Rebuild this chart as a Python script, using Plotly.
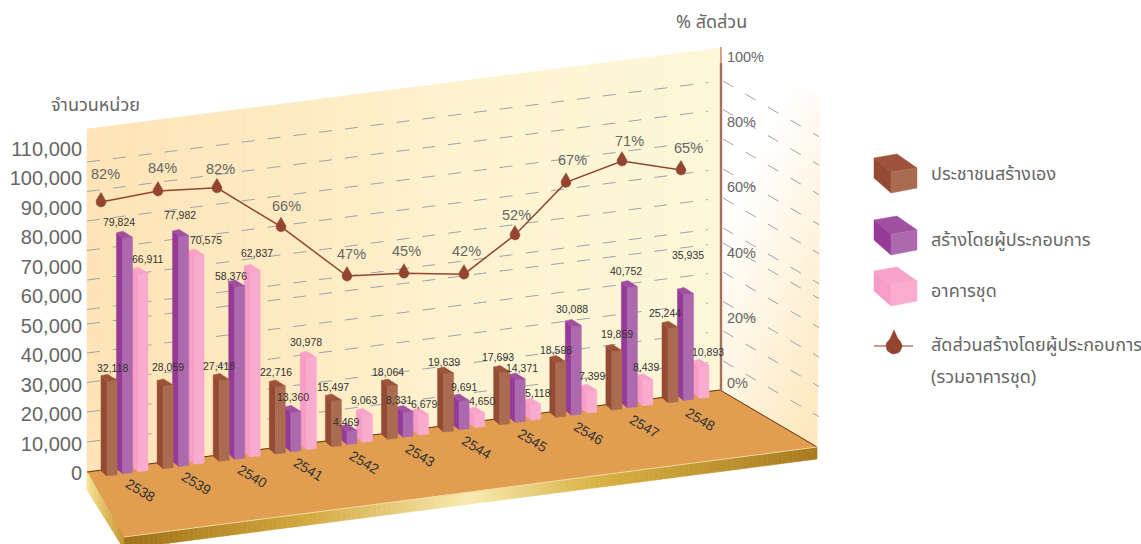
import plotly.graph_objects as go

# ---------- data ----------
years = ["2538", "2539", "2540", "2541", "2542", "2543", "2544", "2545", "2546", "2547", "2548"]
self_built = [32118, 28059, 27418, 22716, 15497, 18064, 19639, 17693, 18598, 19859, 25244]
developer = [79824, 77982, 58376, 13360, 4469, 8331, 9691, 14371, 30088, 40752, 35935]
condo = [66911, 70575, 62837, 30978, 9063, 6679, 4650, 5118, 7399, 8439, 10893]
share_pct = [82, 84, 82, 66, 47, 45, 42, 52, 67, 71, 65]
left_ticks = [0, 10000, 20000, 30000, 40000, 50000, 60000, 70000, 80000, 90000, 100000, 110000]
right_ticks = [0, 20, 40, 60, 80, 100]
series_names = ["ประชาชนสร้างเอง", "สร้างโดยผู้ประกอบการ", "อาคารชุด"]
share_name = ["สัดส่วนสร้างโดยผู้ประกอบการ", "(รวมอาคารชุด)"]

# ---------- projection constants and styling ----------
W, H = 1141, 544
V0, VS = 473.0, 0.00295     # left axis: pixel of zero, pixels per unit
P0, PS = 383.0, 3.26        # right axis: pixel of 0 %, pixels per percent
v_of = lambda p: (V0 - p) / VS
p2_of = lambda p: (P0 - p) / PS

FACES = [
    dict(side="#954A33", front="#AA6C50", top="#9C5339"),
    dict(side="#953A96", front="#AD69AD", top="#A04FA1"),
    dict(side="#F79DC6", front="#F9ACCE", top="#F9A2CA"),
]
LABEL_OFF = [
    [(5, -13), (5, -19), (0, -14), (1, -15), (2, -14), (0, -14), (0, -12), (-2, -16), (0, -13), (5, -17), (-3, -15)],
    [(-4, -16), (1, -21), (-4, -11), (2, -15), (-1, -9), (-4, -13), (5, -14), (7, -12), (1, -17), (-1, -17), (4, -39)],
    [(9, -15), (12, -16), (7, -19), (0, -16), (2, -16), (5, -11), (7, -13), (7, -12), (5, -15), (3, -14), (9, -14)],
]
SHARE_NUDGE = [(0, 2), (-1, 5), (0, 3), (6, -2), (14, -6), (13, -8), (15, -9), (8, -9), (1, -6), (-1, -7), (0, -10)]
SHARE_LABEL = [(4, -28), (4, -23), (3, -19), (5, -21), (4, -22), (2, -22), (2, -23), (1, -20), (6, -22), (7, -20), (7, -22)]
GRID_LEFT = [162, 191.5, 221, 250.5, 280, 309.5, 324, 353, 382.5, 412, 442]
GRID_RIGHT = [81, 109.5, 139, 169, 198, 228, 243, 272, 301.5, 331, 361]

SANS = "Liberation Sans, Arial, sans-serif"
THAI = "Noto Sans Thai, Noto Sans Thai Looped, Noto Sans, DejaVu Sans, sans-serif"
GRAY = "#666666"
DROP = "#93452F"


def mix(a, b, t):
    t = max(0.0, min(1.0, t))
    return "#" + "".join(
        f"{round(int(a[i:i+2], 16) + (int(b[i:i+2], 16) - int(a[i:i+2], 16)) * t):02x}" for i in (1, 3, 5)
    )


def ramp(stops, t):
    for (t0, c0), (t1, c1) in zip(stops, stops[1:]):
        if t <= t1:
            return mix(c0, c1, (t - t0) / (t1 - t0))
    return stops[-1][1]


shapes = []


def poly_shape(points, color):
    path = "M" + " L".join(f"{x:.2f},{v_of(y):.1f}" for x, y in points) + " Z"
    shapes.append(dict(type="path", path=path, xref="x", yref="y", layer="below",
                       fillcolor=color, line=dict(color=color, width=0.6)))


def lerp(a, b, t):
    return (a[0] + (b[0] - a[0]) * t, a[1] + (b[1] - a[1]) * t)


def strips(tl, tr, br, bl, n, color_fn):
    for k in range(n):
        t0, t1 = k / n, (k + 1) / n
        poly_shape([lerp(tl, tr, t0), lerp(tl, tr, t1), lerp(bl, br, t1), lerp(bl, br, t0)],
                   color_fn((t0 + t1) / 2))


# back wall
strips((87, 129), (720, 48), (720, 390), (87, 472), 64,
       lambda t: ramp([(0, "#FEE4B6"), (0.35, "#FEEBC3"), (0.6, "#FEF3D0"), (1, "#FDF7D8")], t))
# right wall, a two-way fade
wn = 18
wtl, wtr, wbr, wbl = (722, 50), (821, 97), (817, 447), (722, 391)
for a in range(wn):
    for b in range(wn):
        u0, u1, w0, w1 = a / wn, (a + 1) / wn, b / wn, (b + 1) / wn
        c = [lerp(lerp(wtl, wtr, u), lerp(wbl, wbr, u), w) for u, w in [(u0, w0), (u1, w0), (u1, w1), (u0, w1)]]
        um, wm = (u0 + u1) / 2, (w0 + w1) / 2
        poly_shape(c, mix("#FFFFFF", "#FDE6B8", 0.6 * um + 0.8 * wm - 0.42))
# floor and its gold edges
poly_shape([(87, 472), (720, 390), (817, 447), (124, 537)], "#E19E50")
strips((124, 537), (817, 447), (817, 459), (124, 549), 140,
       lambda t: ramp([(0, "#9E7018"), (0.25, "#D0A53A"), (0.5, "#F9EAB0"), (0.68, "#D8B344"), (1, "#A87A1F")], t))
strips((87, 472), (124, 537), (124, 549), (87, 490), 24,
       lambda t: ramp([(0, "#F9E594"), (1, "#C4942A")], t))

fig = go.Figure()
COMMON = dict(mode="lines", hoverinfo="skip", showlegend=False)


def add_poly_trace(pts_list, color, yaxis="y"):
    xs, ys = [], []
    for pts in pts_list:
        for x, y in pts + [pts[0]]:
            xs.append(x)
            ys.append(v_of(y))
        xs.append(None)
        ys.append(None)
    fig.add_trace(go.Scatter(x=xs, y=ys, fill="toself", fillcolor=color,
                             line=dict(color=color, width=0.5), yaxis=yaxis, **COMMON))


# dashed grid on both walls
for l, r in zip(GRID_LEFT, GRID_RIGHT):
    fig.add_trace(go.Scatter(x=[87, 708], y=[v_of(l), v_of(l + (r - l) * 621 / 633)],
                             line=dict(color="#9EA3AC", width=1, dash="13px,13px"), **COMMON))
    fig.add_trace(go.Scatter(x=[723, 819], y=[v_of(r), v_of(r + 96 * 0.58)],
                             line=dict(color="#9EA3AC", width=1, dash="12px,14px"), **COMMON))
# wall and floor edges
fig.add_trace(go.Scatter(x=[87, 720, 817], y=[v_of(472), v_of(390), v_of(447)],
                         line=dict(color="#6E3410", width=1), **COMMON))
fig.add_trace(go.Scatter(x=[124, 817], y=[v_of(537), v_of(447)],
                         line=dict(color="#F3D8A4", width=1), **COMMON))
fig.add_trace(go.Scatter(x=[721, 721], y=[v_of(47), v_of(64)],
                         line=dict(color="#C0604C", width=1.2), **COMMON))
fig.add_trace(go.Scatter(x=[721, 721], y=[v_of(63), v_of(391)],
                         line=dict(color="#A5705E", width=2.4), **COMMON))

# bars
all_series = [self_built, developer, condo]
annotations = []
for s in (2, 1, 0):
    sides, fronts, tops = [], [], []
    for i, val in enumerate(all_series[s]):
        x = 107 + 56.1 * i + 15.5 * s
        base = 476 - 7.33 * i - 2.2 * s
        top = base - val * VS
        sides.append([(x, base), (x - 6, base - 5), (x - 6, top - 5.5), (x, top)])
        fronts.append([(x, base), (x + 10, base - 1), (x + 10, top - 1), (x, top)])
        tops.append([(x, top), (x - 6, top - 5.5), (x + 0.5, top - 7), (x + 10, top - 1)])
        dx, dy = LABEL_OFF[s][i]
        annotations.append(dict(x=x + dx, y=v_of(top + dy), text=f"{val:,}", showarrow=False,
                                xanchor="center", yanchor="middle",
                                font=dict(family=SANS, size=10.5, color="#333333")))
    add_poly_trace(sides, FACES[s]["side"])
    add_poly_trace(fronts, FACES[s]["front"])
    add_poly_trace(tops, FACES[s]["top"])


def drop(cx, cy, r, tip):
    from math import cos, sin, pi, asin
    a = asin(r / tip)
    pts = [(cx, cy - tip)]
    n = 18
    for k in range(n + 1):
        ang = -pi / 2 + a + (2 * pi - 2 * a) * k / n
        pts.append((cx + r * cos(ang), cy + r * sin(ang)))
    return pts


# share line, on the percent axis
sx, sy = [], []
for i, pct in enumerate(share_pct):
    x = 101 + 58 * i + SHARE_NUDGE[i][0]
    px = 480.4 - 0.13 * x - PS * pct + SHARE_NUDGE[i][1]
    sx.append(x)
    sy.append(p2_of(px))
    lx, ly = SHARE_LABEL[i]
    annotations.append(dict(x=x + lx, y=v_of(px + ly), text=f"{pct}%", showarrow=False,
                            xanchor="center", yanchor="middle",
                            font=dict(family=SANS, size=14.5, color=GRAY)))
fig.add_trace(go.Scatter(x=sx, y=sy, yaxis="y2", line=dict(color=DROP, width=1.5), **COMMON))
add_poly_trace([drop(x, P0 - y * PS, 5, 9.5) for x, y in zip(sx, sy)], DROP)

# year labels on the floor
for i, yr in enumerate(years):
    annotations.append(dict(x=140 + 56 * i, y=v_of(490 - 7.1 * i), text=yr, showarrow=False, textangle=31,
                            xanchor="center", yanchor="middle",
                            font=dict(family=SANS, size=14, color="#333333")))

# legend
for s, off in enumerate([0, 62, 113]):
    add_poly_trace([[(874, 158 + off), (891, 172 + off), (891, 193 + off), (874, 178 + off)]], FACES[s]["side"])
    add_poly_trace([[(874, 158 + off), (897, 154 + off), (917, 168 + off), (891, 172 + off)]], FACES[s]["top"])
    add_poly_trace([[(891, 172 + off), (917, 168 + off), (917, 188 + off), (891, 193 + off)]], FACES[s]["front"])
fig.add_trace(go.Scatter(x=[874, 913], y=[v_of(346), v_of(346)], line=dict(color="#B87A66", width=1.5), **COMMON))
add_poly_trace([drop(894, 346, 8, 16)], DROP)

legend_rows = list(zip(series_names + share_name, [174, 240, 291, 345, 377]))
for txt, py in legend_rows:
    annotations.append(dict(x=929, y=v_of(py), text=txt, showarrow=False, xanchor="left", yanchor="middle",
                            font=dict(family=THAI, size=18, color=GRAY)))
annotations.append(dict(x=95, y=v_of(105), text="จำนวนหน่วย", showarrow=False, xanchor="center", yanchor="middle",
                        font=dict(family=THAI, size=18, color=GRAY)))
annotations.append(dict(x=711, y=v_of(22), text="% สัดส่วน", showarrow=False, xanchor="center", yanchor="middle",
                        font=dict(family=THAI, size=18, color=GRAY)))

fig.update_layout(
    width=W, height=H, margin=dict(l=0, r=0, t=0, b=0), autosize=False,
    paper_bgcolor="white", plot_bgcolor="rgba(0,0,0,0)", showlegend=False,
    shapes=shapes, annotations=annotations,
    xaxis=dict(range=[0, W], visible=False, domain=[0, 1], fixedrange=True),
    yaxis=dict(range=[v_of(H), v_of(0)], anchor="free", position=87 / W, side="left",
               tickvals=left_ticks, ticktext=[f"{t:,}" for t in left_ticks], showgrid=False, zeroline=False,
               showline=False, ticks="outside", ticklen=1, tickcolor="rgba(0,0,0,0)",
               tickfont=dict(family=SANS, size=20, color=GRAY), fixedrange=True),
    yaxis2=dict(range=[p2_of(H), p2_of(0)], overlaying="y", anchor="free", position=722 / W, side="right",
                tickvals=right_ticks, ticktext=[f"{t}%" for t in right_ticks], showgrid=False, zeroline=False,
                showline=False, ticks="outside", ticklen=1, tickcolor="rgba(0,0,0,0)",
                tickfont=dict(family=SANS, size=14.5, color=GRAY), fixedrange=True),
)
fig.write_html("out.html", config=dict(displayModeBar=False),
               post_script="document.body.style.margin='0';")
